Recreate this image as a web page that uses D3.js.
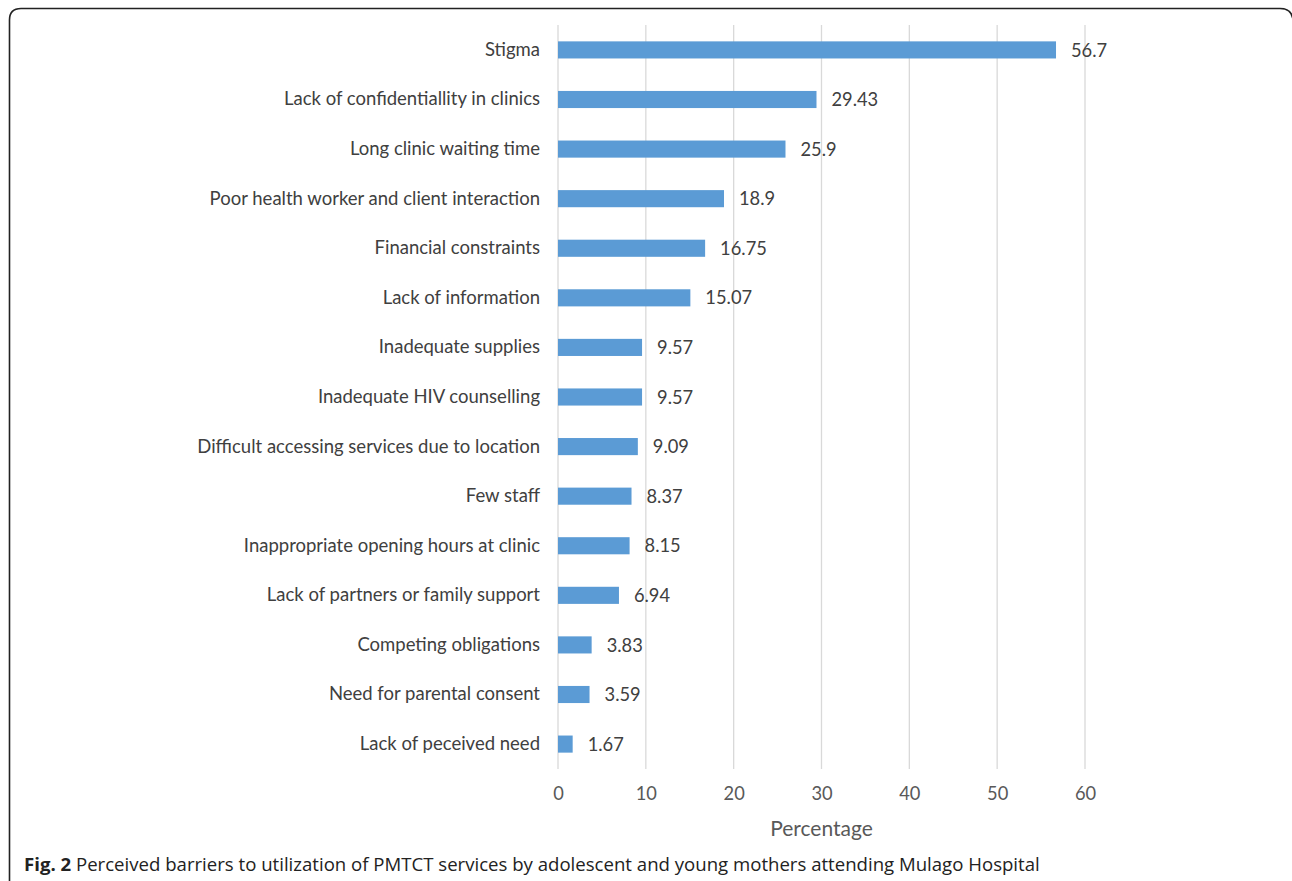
<!DOCTYPE html>
<html>
<head>
<meta charset="utf-8">
<script src="https://cdn.jsdelivr.net/npm/d3@7"></script>
<style>
  body { margin: 0; background: #fff; }
  svg { display: block; }
</style>
</head>
<body>
<div id="chart"></div>
<script>
// barriers, top to bottom
var barriers = [
  "Stigma",
  "Lack of confidentiallity in clinics",
  "Long clinic waiting time",
  "Poor health worker and client interaction",
  "Financial constraints",
  "Lack of information",
  "Inadequate supplies",
  "Inadequate HIV counselling",
  "Difficult accessing services due to location",
  "Few staff",
  "Inappropriate opening hours at clinic",
  "Lack of partners or family support",
  "Competing obligations",
  "Need for parental consent",
  "Lack of peceived need"
];
var percents = [56.7, 29.43, 25.9, 18.9, 16.75, 15.07, 9.57, 9.57, 9.09, 8.37, 8.15, 6.94, 3.83, 3.59, 1.67];
var xTicks = [0, 10, 20, 30, 40, 50, 60];

var svgWidth = 1292;
var svgHeight = 881;
var font = "Lato, 'Open Sans', sans-serif";

var svg = d3.select("#chart")
    .append("svg")
    .attr("width", svgWidth)
    .attr("height", svgHeight);

// frame round the figure (open at the right and bottom like the scan)
svg.append("path")
    .attr("d", "M9.5,900 L9.5,20 Q9.5,8.5 21,8.5 L1280,8.5 Q1292,8.5 1293,20")
    .attr("fill", "none")
    .attr("stroke", "#222")
    .attr("stroke-width", 1.6);

var xScale = d3.scaleLinear()
    .domain([0, 60])
    .range([558, 1085]);

var yScale = d3.scaleBand()
    .domain(barriers)
    .range([25, 769])
    .paddingInner(0.655)
    .paddingOuter(0.33);

// gridlines
svg.append("g")
    .selectAll("line")
    .data(xTicks)
    .enter()
    .append("line")
    .attr("x1", d => xScale(d))
    .attr("x2", d => xScale(d))
    .attr("y1", 25)
    .attr("y2", 769)
    .attr("stroke", "#d9d9d9")
    .attr("stroke-width", 1.3);

// bars
svg.append("g")
    .selectAll("rect")
    .data(percents)
    .enter()
    .append("rect")
    .attr("x", xScale(0))
    .attr("y", (d, i) => yScale(barriers[i]))
    .attr("width", d => xScale(d) - xScale(0))
    .attr("height", yScale.bandwidth())
    .attr("fill", "#5b9bd5");

// value labels
svg.append("g")
    .selectAll("text")
    .data(percents)
    .enter()
    .append("text")
    .attr("x", d => xScale(d) + 15)
    .attr("y", (d, i) => yScale(barriers[i]) + yScale.bandwidth() / 2)
    .attr("dy", "0.36em")
    .attr("font-family", font)
    .attr("font-size", "18.3px")
    .attr("fill", "#404040")
    .text(d => d);

// category labels
var yAxis = d3.axisLeft(yScale).tickSize(0).tickPadding(18);
var yAxisGroup = svg.append("g")
    .attr("transform", `translate(${xScale(0)}, 0)`)
    .call(yAxis);
yAxisGroup.select(".domain").remove();
yAxisGroup.selectAll("text")
    .attr("font-family", font)
    .attr("font-size", "18.5px")
    .attr("fill", "#404040");

// x axis tick labels
var xAxis = d3.axisBottom(xScale).tickValues(xTicks).tickSize(0).tickPadding(18);
var xAxisGroup = svg.append("g")
    .attr("transform", "translate(0, 769)")
    .call(xAxis);
xAxisGroup.select(".domain").remove();
xAxisGroup.selectAll("text")
    .attr("font-family", font)
    .attr("font-size", "18.3px")
    .attr("fill", "#595959");

// axis title
svg.append("text")
    .attr("x", (xScale(0) + xScale(60)) / 2)
    .attr("y", 836)
    .attr("text-anchor", "middle")
    .attr("font-family", font)
    .attr("font-size", "21px")
    .attr("fill", "#595959")
    .text("Percentage");

// caption
var caption = svg.append("text")
    .attr("x", 24)
    .attr("y", 871)
    .attr("font-family", "'Open Sans', 'Noto Sans', sans-serif")
    .attr("font-size", "18.6px")
    .attr("fill", "#222");
caption.append("tspan")
    .attr("font-weight", "bold")
    .text("Fig. 2");
caption.append("tspan")
    .text(" Perceived barriers to utilization of PMTCT services by adolescent and young mothers attending Mulago Hospital");
</script>
</body>
</html>
